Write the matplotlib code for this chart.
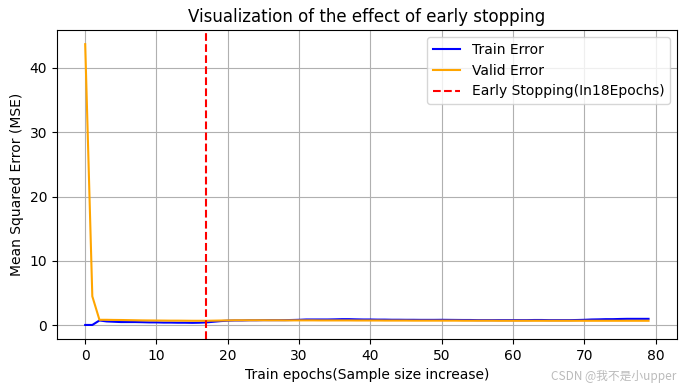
import matplotlib.pyplot as plt

plt.rcParams['font.family'] = ['DejaVu Sans', 'Noto Sans CJK SC']

epochs = list(range(80))
train_err = [0.05, 0.05, 0.75, 0.6, 0.55, 0.5, 0.5, 0.5, 0.48, 0.45,
             0.45, 0.42, 0.42, 0.4, 0.4, 0.38, 0.4, 0.45, 0.55, 0.65,
             0.72, 0.75, 0.75, 0.78, 0.78, 0.8, 0.8, 0.8, 0.8, 0.82,
             0.85, 0.9, 0.9, 0.9, 0.9, 0.92, 0.95, 0.95, 0.92, 0.9,
             0.9, 0.88, 0.88, 0.86, 0.86, 0.85, 0.85, 0.84, 0.84, 0.84,
             0.85, 0.84, 0.83, 0.82, 0.82, 0.8, 0.8, 0.8, 0.8, 0.8,
             0.8, 0.8, 0.8, 0.82, 0.82, 0.8, 0.8, 0.8, 0.8, 0.82,
             0.85, 0.9, 0.92, 0.95, 0.95, 0.98, 1.0, 1.0, 1.0, 1.0]
valid_err = [43.7, 4.5, 0.85, 0.85, 0.83, 0.82, 0.8, 0.78, 0.76, 0.75,
             0.74, 0.73, 0.72, 0.72, 0.71, 0.7, 0.7, 0.7, 0.72, 0.74,
             0.76, 0.78, 0.78, 0.78, 0.78, 0.78, 0.77, 0.77, 0.76, 0.76,
             0.76, 0.76, 0.76, 0.75, 0.75, 0.75, 0.75, 0.75, 0.74, 0.74,
             0.74, 0.74, 0.73, 0.73, 0.73, 0.73, 0.72, 0.72, 0.72, 0.72,
             0.72, 0.72, 0.72, 0.71, 0.71, 0.71, 0.71, 0.71, 0.7, 0.7,
             0.7, 0.7, 0.7, 0.7, 0.7, 0.7, 0.7, 0.7, 0.7, 0.7,
             0.7, 0.7, 0.7, 0.7, 0.7, 0.7, 0.7, 0.7, 0.7, 0.7]
stop_epoch = 17

fig = plt.figure(figsize=(6.87, 3.91), dpi=100)
ax = fig.add_subplot(111)
ax.plot(epochs, train_err, color='blue', label='Train Error')
ax.plot(epochs, valid_err, color='orange', label='Valid Error')
ax.axvline(stop_epoch, color='red', linestyle='--', label='Early Stopping(In18Epochs)')
ax.set_title("Visualization of the effect of early stopping")
ax.set_xlabel("Train epochs(Sample size increase)")
ax.set_ylabel("Mean Squared Error (MSE)")
ax.grid(True)
ax.legend(loc='upper right')
plt.subplots_adjust(left=0.083, right=0.985, top=0.923, bottom=0.133)
# csdn watermark
fig.text(0.985, 0.02, "CSDN @我不是小upper", ha='right', va='bottom',
         fontsize=8.5, color='#bbbbbb', family=['Noto Sans CJK SC', 'DejaVu Sans'])
plt.savefig("out.png", dpi=100)
